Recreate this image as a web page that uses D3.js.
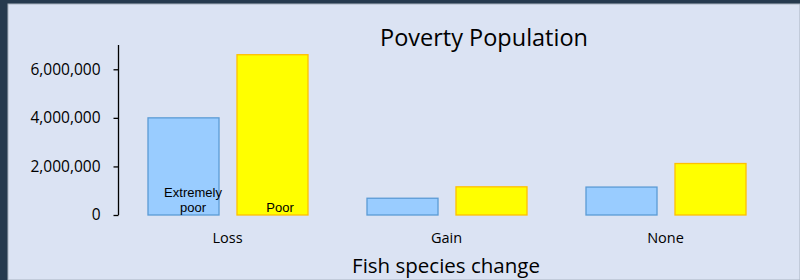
<!DOCTYPE html>
<html>
<head>
<meta charset="utf-8">
<script src="https://cdn.jsdelivr.net/npm/d3@7"></script>
<style>
  body { margin: 0; background: #263a4e; }
  svg { display: block; }
  text { font-family: "Open Sans", "Liberation Sans", sans-serif; fill: #000; }
  text.inner { font-family: "Liberation Sans", Arial, sans-serif; font-size: 13px; }
</style>
</head>
<body>
<svg id="chart" width="800" height="280"></svg>
<script>
// data
var categories = ["Loss", "Gain", "None"];
var groups = ["Extremely poor", "Poor"];
var extremelyPoor = [4000000, 690000, 1150000];
var poor = [6600000, 1160000, 2120000];
var yTicks = [0, 2000000, 4000000, 6000000];

var svg = d3.select("#chart");

// panel
svg.append("rect").attr("x", 8).attr("y", 4).attr("width", 792).attr("height", 276)
  .attr("fill", "#dbe3f3").attr("stroke", "#a9b3c0").attr("stroke-width", 1);

var y = d3.scaleLinear().domain([0, 7000000]).range([215, 45]);
var x0 = d3.scaleBand().domain(categories).range([118, 775]).paddingInner(0).paddingOuter(0);
var x1 = d3.scaleBand().domain(groups).range([0, x0.bandwidth()]).paddingInner(0.202).paddingOuter(0.3315);

var colors = {"Extremely poor": {fill: "#99ccff", stroke: "#5b9bd5"},
              "Poor": {fill: "#ffff00", stroke: "#ffc000"}};

var rows = categories.map(function(c, i) {
  return {cat: c, vals: [{g: groups[0], v: extremelyPoor[i]}, {g: groups[1], v: poor[i]}]};
});

var g = svg.selectAll("g.cat").data(rows).enter().append("g")
  .attr("class", "cat")
  .attr("transform", function(d) { return "translate(" + x0(d.cat) + ",0)"; });

g.selectAll("rect").data(function(d) { return d.vals; }).enter().append("rect")
  .attr("x", function(d) { return x1(d.g) + 0.5; })
  .attr("y", function(d) { return y(d.v); })
  .attr("width", x1.bandwidth())
  .attr("height", function(d) { return y(0) - y(d.v); })
  .attr("fill", function(d) { return colors[d.g].fill; })
  .attr("stroke", function(d) { return colors[d.g].stroke; })
  .attr("stroke-width", 1.3);

// y axis
var yAxis = d3.axisLeft(y).tickValues(yTicks).tickSize(5).tickPadding(13)
  .tickFormat(d3.format(",")).tickSizeOuter(0);
var ya = svg.append("g").attr("transform", "translate(118.5,0)").call(yAxis);
ya.select(".domain").attr("stroke", "#000").attr("stroke-width", 1.3).attr("d", "M0," + y(7000000) + "V" + y(0));
ya.selectAll(".tick line").attr("stroke", "#000").attr("stroke-width", 1.3);
ya.selectAll(".tick text").style("font-size", "15.5px").attr("fill", "#000");

// category labels
svg.selectAll("text.cat").data(categories).enter().append("text")
  .attr("class", "cat")
  .attr("x", function(d) { return x0(d) + x0.bandwidth() / 2; })
  .attr("y", 243)
  .attr("text-anchor", "middle")
  .style("font-size", "14.5px")
  .text(function(d) { return d; });

// series labels inside the Loss bars
var lossX = x0("Loss");
var cx0 = lossX + x1(groups[0]) + x1.bandwidth() / 2 + 10;
var cx1 = lossX + x1(groups[1]) + x1.bandwidth() / 2 + 8;
svg.append("text").attr("class", "inner").attr("x", cx0).attr("y", 196.5)
  .attr("text-anchor", "middle").text("Extremely");
svg.append("text").attr("class", "inner").attr("x", cx0).attr("y", 211.5)
  .attr("text-anchor", "middle").text("poor");
svg.append("text").attr("class", "inner").attr("x", cx1).attr("y", 211.5)
  .attr("text-anchor", "middle").text("Poor");

// title and axis title
svg.append("text").attr("x", 484).attr("y", 46).attr("text-anchor", "middle")
  .style("font-size", "23.5px").text("Poverty Population");
svg.append("text").attr("x", 446).attr("y", 273).attr("text-anchor", "middle")
  .style("font-size", "20.5px").text("Fish species change");
</script>
</body>
</html>
